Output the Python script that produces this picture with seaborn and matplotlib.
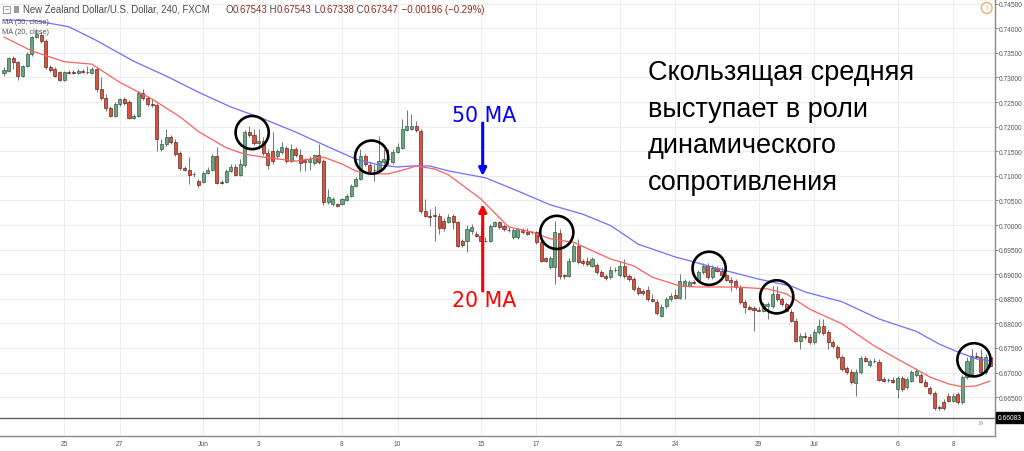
import numpy as np
import matplotlib
matplotlib.use("Agg")
import matplotlib.pyplot as plt
import matplotlib.transforms as mtransforms
import seaborn as sns

# ---------------- data (prices in pips: value / 10000) ----------------
open_pips = [
7309,7313,7340,7331,7303,7323,7348,7382,7386,7374,
7321,7317,7311,7295,7311,7311,7310,7313,7312,7309,
7317,7277,7258,7238,7222,7246,7256,7250,7218,7222,
7268,7258,7246,7244,7155,7165,7179,7169,7146,7116,
7112,7104,7090,7087,7106,7112,7140,7087,7087,7110,
7118,7102,7122,7189,7183,7167,7171,7146,7151,7140,
7148,7157,7130,7155,7142,7132,7128,7126,7142,7130,
7047,7043,7043,7043,7051,7059,7079,7094,7140,7122,
7112,7110,7128,7134,7128,7148,7157,7193,7195,7201,
7191,7028,7018,7020,7018,7008,7006,7018,7006,6968,
6968,6988,6982,6978,6968,6968,6998,7006,6998,6990,
6976,6976,6990,6986,6986,6986,6966,6933,6915,6915,
6984,6898,6896,6927,6957,6927,6927,6917,6919,6905,
6896,6894,6909,6898,6917,6896,6890,6872,6866,6868,
6850,6844,6815,6835,6850,6858,6852,6876,6876,6884,
6886,6905,6917,6894,6913,6907,6898,6888,6886,6874,
6844,6833,6831,6827,6825,6835,6835,6860,6850,6839,
6823,6805,6764,6774,6772,6762,6783,6795,6783,6762,
6752,6732,6709,6701,6679,6701,6730,6715,6724,6722,
6687,6685,6685,6667,6689,6671,6683,6695,6695,6681,
6669,6659,6630,6640,6652,6642,6656,6640,6691,6697,
6734,6732,6701,6732]

close_pips = [
7315,7340,7331,7303,7323,7348,7382,7388,7374,7321,
7315,7303,7295,7311,7309,7310,7313,7312,7311,7317,
7277,7258,7238,7222,7246,7256,7248,7218,7222,7268,
7258,7246,7245,7175,7165,7179,7169,7144,7116,7112,
7102,7103,7081,7106,7112,7140,7085,7086,7110,7118,
7102,7124,7189,7183,7167,7171,7146,7122,7130,7151,
7159,7130,7155,7142,7126,7128,7134,7142,7128,7047,
7057,7053,7039,7053,7059,7079,7094,7140,7124,7110,
7111,7130,7134,7135,7148,7159,7195,7201,7201,7193,
7028,7018,7017,7018,6994,6994,7016,7006,6957,6959,
6992,6996,6978,6968,6967,6998,7006,6996,6992,6989,
6990,6992,6986,6982,6985,6966,6927,6927,6933,6986,
6896,6896,6927,6957,6925,6923,6921,6931,6905,6896,
6892,6909,6908,6917,6896,6890,6870,6862,6862,6850,
6846,6821,6833,6850,6856,6852,6886,6886,6884,6883,
6905,6917,6894,6913,6907,6898,6888,6884,6874,6844,
6833,6829,6828,6826,6839,6839,6860,6850,6839,6825,
6805,6764,6774,6772,6762,6783,6795,6781,6762,6754,
6732,6707,6701,6681,6701,6730,6724,6724,6723,6685,
6683,6684,6681,6689,6667,6687,6701,6703,6681,6673,
6659,6628,6629,6628,6642,6652,6640,6691,6724,6734,
6732,6701,6732,6713]

high_pips = [
7321,7342,7344,7333,7325,7352,7384,7399,7392,7378,
7325,7321,7313,7313,7315,7315,7317,7317,7323,7321,
7319,7301,7266,7242,7250,7258,7260,7254,7226,7272,
7277,7262,7256,7248,7175,7195,7183,7175,7151,7120,
7138,7108,7094,7110,7118,7144,7159,7092,7114,7124,
7124,7134,7193,7201,7195,7195,7179,7155,7189,7155,
7169,7161,7165,7159,7155,7136,7140,7144,7165,7134,
7073,7057,7045,7055,7063,7083,7098,7155,7144,7128,
7124,7181,7155,7155,7155,7167,7216,7234,7226,7211,
7195,7053,7033,7039,7024,7014,7022,7022,7008,6972,
7000,7002,6988,6996,6976,7002,7008,7008,7002,6996,
6994,6994,6994,6994,6988,6988,6972,6935,6937,7008,
6992,6900,6933,6963,6972,6931,6935,6935,6923,6909,
6900,6917,6915,6927,6931,6900,6894,6876,6870,6876,
6860,6850,6839,6854,6862,6870,6900,6890,6888,6888,
6909,6923,6923,6919,6917,6915,6902,6894,6890,6878,
6848,6837,6835,6833,6844,6844,6876,6876,6854,6844,
6829,6811,6781,6783,6778,6789,6809,6809,6787,6766,
6756,6736,6713,6707,6707,6734,6734,6728,6730,6728,
6691,6689,6691,6693,6693,6691,6705,6709,6699,6687,
6673,6663,6634,6646,6659,6659,6661,6695,6732,6748,
6742,6748,6738,6738]

low_pips = [
7303,7311,7317,7295,7301,7321,7344,7380,7370,7317,
7311,7301,7293,7293,7307,7307,7307,7309,7307,7307,
7270,7254,7232,7220,7220,7242,7244,7216,7216,7220,
7254,7242,7240,7151,7151,7161,7165,7140,7112,7110,
7083,7098,7077,7085,7104,7110,7083,7083,7085,7108,
7100,7100,7118,7179,7163,7155,7142,7114,7124,7134,
7144,7126,7128,7138,7110,7110,7112,7122,7124,7041,
7043,7039,7037,7041,7049,7057,7077,7092,7120,7106,
7090,7108,7124,7122,7124,7146,7155,7191,7193,7189,
7024,7016,6998,6968,6982,6988,7004,6992,6955,6955,
6945,6982,6976,6966,6966,6966,6996,6992,6988,6986,
6972,6972,6982,6980,6982,6961,6925,6925,6911,6880,
6890,6890,6894,6925,6921,6919,6917,6915,6900,6894,
6888,6890,6905,6894,6892,6886,6866,6858,6858,6846,
6844,6817,6813,6831,6846,6850,6850,6850,6874,6880,
6884,6900,6890,6890,6905,6894,6886,6866,6870,6839,
6821,6827,6785,6825,6823,6809,6831,6846,6835,6823,
6803,6762,6748,6768,6758,6758,6778,6776,6748,6750,
6728,6703,6697,6677,6652,6697,6722,6711,6720,6683,
6681,6681,6679,6648,6663,6667,6681,6691,6679,6671,
6654,6624,6624,6624,6640,6640,6636,6636,6687,6693,
6728,6697,6697,6711]

ma50_idx = [0,7,14,20,28,35,42,49,56,63,70,76,81,85,88,92,96,104,111,118,
            125,131,137,145,149,156,163,170,173,181,189,197,202,206,210,213]
ma50_pips = [7417,7415,7403,7375,7333,7303,7270,7240,7216,7189,7159,7134,7122,7118,7120,7120,7110,7096,7069,7041,
             7022,6999,6961,6935,6925,6907,6890,6876,6864,6844,6809,6784,6758,6742,6728,6724]

ma20_idx = [0,6,13,19,25,32,38,42,48,52,56,63,69,73,76,79,83,87,89,93,
            96,103,109,114,118,123,131,136,140,146,150,158,165,169,174,181,188,195,200,204,
            207,210,213]
ma20_pips = [7382,7354,7332,7327,7290,7256,7220,7190,7157,7144,7138,7130,7138,7124,7110,7104,7104,7114,7120,7114,
             7102,7053,6996,6986,6972,6965,6931,6917,6894,6876,6874,6874,6870,6860,6829,6799,6754,6717,6691,6677,
             6671,6673,6683]

date_tick_idx = [13, 25, 43, 55, 73, 85, 103, 115, 133, 145, 163, 175, 193, 205]
date_labels = ["25", "27", "Jun", "3", "8", "10", "15", "17", "22", "24", "29", "Jul", "6", "8"]

price_ticks = [0.665, 0.670, 0.675, 0.680, 0.685, 0.690, 0.695, 0.700, 0.705,
               0.710, 0.715, 0.720, 0.725, 0.730, 0.735, 0.740, 0.745]
last_price = 0.66083

highlight_idx = [53.6, 79.4, 119.4, 152.3, 166.9, 209.5]
highlight_price = [0.7188, 0.7138, 0.6985, 0.6912, 0.6854, 0.6726]

header_title = "New Zealand Dollar/U.S. Dollar, 240, FXCM"
header_ohlc = [("O", "0.67543"), ("H", "0.67543"), ("L", "0.67338"), ("C", "0.67347")]
header_change = "\u22120.00196 (\u22120.29%)"

note_lines = ["Скользящая средняя", "выступает в роли", "динамического", "сопротивления"]

# ---------------- prepare ----------------
for arr in (open_pips, close_pips, high_pips, low_pips):
    assert len(arr) == 214, len(arr)

o = np.array(open_pips) / 1e4
c = np.array(close_pips) / 1e4
h = np.array(high_pips) / 1e4
l = np.array(low_pips) / 1e4
idx = np.arange(len(o))
ma50 = np.array(ma50_pips) / 1e4
ma20 = np.array(ma20_pips) / 1e4

sns.set_theme(style="white")
plt.rcParams["font.family"] = ["Liberation Sans", "DejaVu Sans"]

W, H = 1024, 452
fig = plt.figure(figsize=(W / 100, H / 100), dpi=100)
fig.patch.set_facecolor("white")
ax = fig.add_axes([0, 15 / H, 995 / W, 437 / H])
ax.set_facecolor("white")

ax.set_xlim(-0.864, 214.05)
ax.set_ylim(0.65711, 0.74595)

# grid
ax.set_yticks(price_ticks)
ax.set_yticklabels([f"{p:.5f}" for p in price_ticks])
ax.set_xticks(date_tick_idx)
ax.set_xticklabels(date_labels)
ax.grid(True, color="#ededed", lw=0.8, zorder=0)
ax.set_axisbelow(True)

ax.yaxis.tick_right()
ax.tick_params(axis="y", which="both", right=True, left=False, length=2.0, width=0.7,
               color="#8a8a8a", labelsize=4.8, labelcolor="#555555", pad=0.8)
ax.tick_params(axis="x", bottom=True, length=0, labelsize=4.8, labelcolor="#555555", pad=3.0)

for side in ("top", "left"):
    ax.spines[side].set_visible(False)
for side in ("right", "bottom"):
    ax.spines[side].set_color("#8a8a8a")
    ax.spines[side].set_linewidth(1.0)

# candles
up = c >= o
body_col = np.where(up, "#6ba583", "#d75442")
edge_col = np.where(up, "#225437", "#5b1a13")
ax.vlines(idx, np.minimum(l, np.minimum(o, c)), np.maximum(h, np.maximum(o, c)),
          color="#7a7a7c", lw=0.75, zorder=2)
bottoms = np.minimum(o, c)
heights = np.maximum(np.abs(c - o), 0.00006)
ax.bar(idx, heights, bottom=bottoms, width=0.66, color=body_col, edgecolor=edge_col,
       linewidth=0.45, zorder=3)

# moving averages
sns.lineplot(x=ma50_idx, y=ma50, ax=ax, color="#6f6fff", lw=0.9, zorder=4)
sns.lineplot(x=ma20_idx, y=ma20, ax=ax, color="#ff5f5f", lw=0.9, zorder=4)

# last price line and label
ax.axhline(last_price, color="#5c5c5c", lw=1.0, zorder=1)
trans = mtransforms.blended_transform_factory(ax.transAxes, ax.transData)
ax.text(1.003, last_price, f"{last_price:.5f}", transform=trans, ha="left", va="center",
        fontsize=4.8, color="white", zorder=6, clip_on=False,
        bbox=dict(boxstyle="square,pad=0.3", fc="black", ec="black"))

# highlight circles
ax.scatter(highlight_idx, highlight_price, s=570, facecolors="none", edgecolors="black",
           linewidths=1.9, zorder=5)

# header
renderer = fig.canvas.get_renderer()
def seq_text(x_px, y_px, pieces, fs):
    x = x_px
    for s, col in pieces:
        t = fig.text(x / W, 1 - y_px / H, s, color=col, fontsize=fs, ha="left", va="center")
        x += t.get_window_extent(renderer=renderer).width
    return x

seq_text(23, 10, [(header_title, "#4a4a4a")], 6.9)
pieces = []
for lab, val in header_ohlc:
    pieces.append((lab if lab == "O" else " " + lab, "#4a4a4a"))
    pieces.append((val, "#8e2b20"))
pieces.append((" " + header_change, "#8e2b20"))
seq_text(225, 10, pieces, 6.9)

fig.patches.append(plt.Rectangle((3 / W, 1 - 14 / H), 7 / W, 7 / H, transform=fig.transFigure,
                                 fill=False, ec="#8a8a8a", lw=0.6))
fig.patches.append(plt.Rectangle((14 / W, 1 - 14 / H), 5 / W, 7 / H, transform=fig.transFigure,
                                 fc="#9a9a9a", ec="none"))
fig.text(6.5 / W, 1 - 10.5 / H, "\u2212", fontsize=5, color="#777777", ha="center", va="center")
fig.text(2 / W, 1 - 22 / H, "MA (50, close)", fontsize=5.3, color="#555555", ha="left", va="center")
fig.text(2 / W, 1 - 33 / H, "MA (20, close)", fontsize=5.3, color="#555555", ha="left", va="center")

fig.text(986.7 / W, 1 - 9 / H, "!", fontsize=5.5, color="#f29a4a", ha="center", va="center",
         bbox=dict(boxstyle="circle,pad=0.25", fc="white", ec="#f29a4a", lw=0.8))
fig.text(980 / W, 1 - 423 / H, "\u00bb", fontsize=7, color="#8a9ab0", ha="center", va="center")

# annotation text
baselines = [80.5, 117, 153.5, 190]
for line, yb in zip(note_lines, baselines):
    fig.text(648 / W, 1 - yb / H, line, fontsize=19.5, color="black", ha="left",
             va="baseline", family=["Liberation Sans", "DejaVu Sans"])

fig.text(452 / W, 1 - 121.7 / H, "50 MA", fontsize=14.8, color="#0000ff", ha="left",
         va="baseline", family=["DejaVu Sans"])
fig.text(452 / W, 1 - 306.7 / H, "20 MA", fontsize=14.8, color="#ff0000", ha="left",
         va="baseline", family=["DejaVu Sans"])

ax.annotate("", xy=(482.7, H - 177), xytext=(482.7, H - 124), xycoords="figure pixels",
            textcoords="figure pixels",
            arrowprops=dict(arrowstyle="-|>", color="#0000ff", lw=2.2, mutation_scale=11,
                            shrinkA=0, shrinkB=0))
ax.annotate("", xy=(482.7, H - 205), xytext=(482.7, H - 292), xycoords="figure pixels",
            textcoords="figure pixels",
            arrowprops=dict(arrowstyle="-|>", color="#ff0000", lw=2.2, mutation_scale=11,
                            shrinkA=0, shrinkB=0))

fig.savefig("out.png", dpi=100, facecolor="white")
